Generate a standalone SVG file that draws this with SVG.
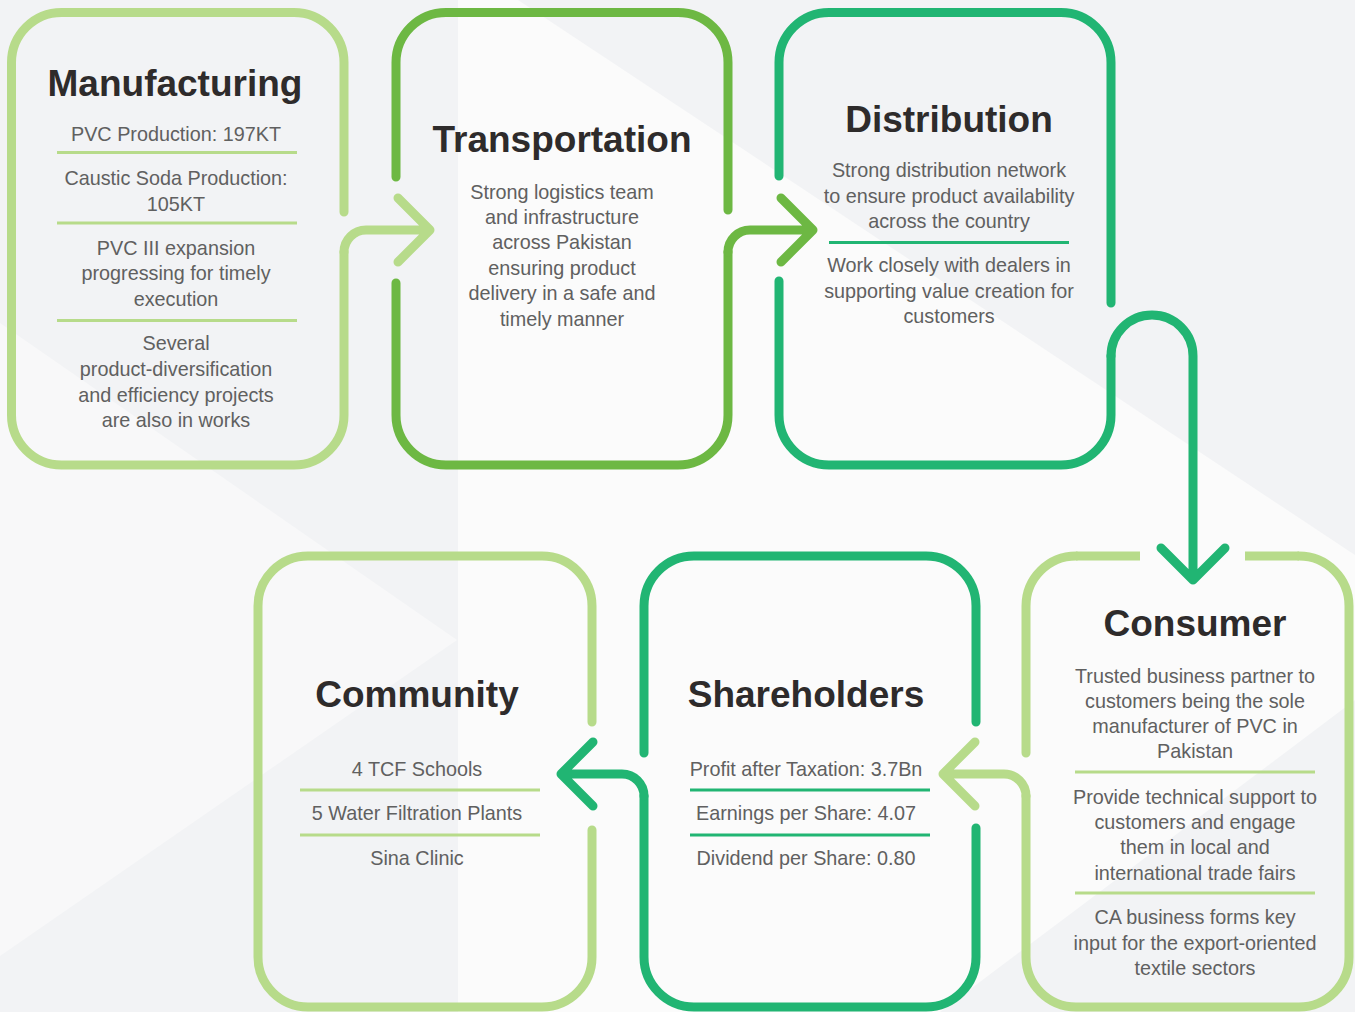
<svg xmlns="http://www.w3.org/2000/svg" width="1355" height="1012" viewBox="0 0 1355 1012">
  <defs>
    <style>
      .lg { stroke: #b7db8a; }
      .mg { stroke: #6db843; }
      .tg { stroke: #21b573; }
      .ln { fill: none; stroke-width: 9; stroke-linecap: round; stroke-linejoin: round; }
      .butt { fill: none; stroke-width: 9; stroke-linecap: butt; }
      .sep { fill: none; stroke-width: 3; }
      .title { font-family: "Liberation Sans", Arial, sans-serif; font-weight: bold; font-size: 37px; fill: #2e2b2b; text-anchor: middle; }
      .body { font-family: "Liberation Sans", Arial, sans-serif; font-size: 19.8px; fill: #606060; text-anchor: middle; }
    </style>
  </defs>

  <!-- background -->
  <g id="background">
    <rect x="0" y="0" width="1355" height="1012" fill="#f2f3f5"/>
    <polygon points="458,0 518,0 1355,555 1355,700 940,1012 458,1012" fill="#fbfbfb"/>
    <polygon points="0,323 457,640 0,956" fill="#f8f8f9"/>
  </g>

  <!-- Manufacturing -->
  <g id="manufacturing">
    <path class="ln lg" d="M 344 212 V 62.5 A 50 50 0 0 0 294 12.5 H 61.5 A 50 50 0 0 0 11.5 62.5 V 415 A 50 50 0 0 0 61.5 465 H 294 A 50 50 0 0 0 344 415 V 252"/>
    <text class="title" x="175" y="96">Manufacturing</text>
    <text class="body" x="176" y="141">PVC Production: 197KT</text>
    <line class="sep lg" x1="57" y1="152.5" x2="297" y2="152.5"/>
    <text class="body" x="176" y="185">Caustic Soda Production:</text>
    <text class="body" x="176" y="211">105KT</text>
    <line class="sep lg" x1="57" y1="223" x2="297" y2="223"/>
    <text class="body" x="176" y="255">PVC III expansion</text>
    <text class="body" x="176" y="280">progressing for timely</text>
    <text class="body" x="176" y="306">execution</text>
    <line class="sep lg" x1="57" y1="320.5" x2="297" y2="320.5"/>
    <text class="body" x="176" y="350">Several</text>
    <text class="body" x="176" y="376">product-diversification</text>
    <text class="body" x="176" y="402">and efficiency projects</text>
    <text class="body" x="176" y="427">are also in works</text>
  </g>

  <!-- Transportation -->
  <g id="transportation">
    <path class="ln mg" d="M 728 210 V 62.5 A 50 50 0 0 0 678 12.5 H 446 A 50 50 0 0 0 396 62.5 V 177 M 396 283 V 415 A 50 50 0 0 0 446 465 H 678 A 50 50 0 0 0 728 415 V 252"/>
    <text class="title" x="562" y="152">Transportation</text>
    <text class="body" x="562" y="199">Strong logistics team</text>
    <text class="body" x="562" y="224">and infrastructure</text>
    <text class="body" x="562" y="249">across Pakistan</text>
    <text class="body" x="562" y="275">ensuring product</text>
    <text class="body" x="562" y="300">delivery in a safe and</text>
    <text class="body" x="562" y="326">timely manner</text>
  </g>

  <!-- Distribution -->
  <g id="distribution">
    <path class="ln tg" d="M 1111 303 V 62.5 A 50 50 0 0 0 1061 12.5 H 829 A 50 50 0 0 0 779 62.5 V 176 M 779 281 V 415 A 50 50 0 0 0 829 465 H 1061 A 50 50 0 0 0 1111 415 V 356"/>
    <text class="title" x="949" y="132">Distribution</text>
    <text class="body" x="949" y="177">Strong distribution network</text>
    <text class="body" x="949" y="203">to ensure product availability</text>
    <text class="body" x="949" y="228">across the country</text>
    <line class="sep tg" x1="829" y1="242.5" x2="1069" y2="242.5"/>
    <text class="body" x="949" y="272">Work closely with dealers in</text>
    <text class="body" x="949" y="298">supporting value creation for</text>
    <text class="body" x="949" y="323">customers</text>
  </g>

  <!-- Consumer -->
  <g id="consumer">
    <path class="butt lg" d="M 1140 556 H 1076 M 1245 556 H 1299"/>
    <path class="ln lg" d="M 1076 556 A 50 50 0 0 0 1026 606 V 753 M 1299 556 A 50 50 0 0 1 1349 606 V 957 A 50 50 0 0 1 1299 1007 H 1076 A 50 50 0 0 1 1026 957 V 796"/>
    <text class="title" x="1195" y="636">Consumer</text>
    <text class="body" x="1195" y="683">Trusted business partner to</text>
    <text class="body" x="1195" y="708">customers being the sole</text>
    <text class="body" x="1195" y="733">manufacturer of PVC in</text>
    <text class="body" x="1195" y="758">Pakistan</text>
    <line class="sep lg" x1="1075" y1="772" x2="1315" y2="772"/>
    <text class="body" x="1195" y="804">Provide technical support to</text>
    <text class="body" x="1195" y="829">customers and engage</text>
    <text class="body" x="1195" y="854">them in local and</text>
    <text class="body" x="1195" y="880">international trade fairs</text>
    <line class="sep lg" x1="1075" y1="893" x2="1315" y2="893"/>
    <text class="body" x="1195" y="924">CA business forms key</text>
    <text class="body" x="1195" y="950">input for the export-oriented</text>
    <text class="body" x="1195" y="975">textile sectors</text>
  </g>

  <!-- Shareholders -->
  <g id="shareholders">
    <path class="ln tg" d="M 644 753 V 606 A 50 50 0 0 1 694 556 H 926 A 50 50 0 0 1 976 606 V 722 M 976 828 V 957 A 50 50 0 0 1 926 1007 H 694 A 50 50 0 0 1 644 957 V 796"/>
    <text class="title" x="806" y="707">Shareholders</text>
    <text class="body" x="806" y="776">Profit after Taxation: 3.7Bn</text>
    <line class="sep tg" x1="690" y1="790" x2="930" y2="790"/>
    <text class="body" x="806" y="820">Earnings per Share: 4.07</text>
    <line class="sep tg" x1="690" y1="835" x2="930" y2="835"/>
    <text class="body" x="806" y="865">Dividend per Share: 0.80</text>
  </g>

  <!-- Community -->
  <g id="community">
    <path class="ln lg" d="M 592 722 V 606 A 50 50 0 0 0 542 556 H 308 A 50 50 0 0 0 258 606 V 957 A 50 50 0 0 0 308 1007 H 542 A 50 50 0 0 0 592 957 V 830"/>
    <text class="title" x="417" y="707">Community</text>
    <text class="body" x="417" y="776">4 TCF Schools</text>
    <line class="sep lg" x1="300" y1="790" x2="540" y2="790"/>
    <text class="body" x="417" y="820">5 Water Filtration Plants</text>
    <line class="sep lg" x1="300" y1="835" x2="540" y2="835"/>
    <text class="body" x="417" y="865">Sina Clinic</text>
  </g>

  <!-- connectors -->
  <g id="connectors">
    <path class="ln lg" d="M 344 252 A 22 22 0 0 1 366 230 H 430 M 398 198 L 430 230 L 398 262"/>
    <path class="ln mg" d="M 728 252 A 22 22 0 0 1 750 230 H 813 M 781 198 L 813 230 L 781 262"/>
    <path class="ln tg" d="M 1111 356 A 41 41 0 0 1 1193 356 V 580 M 1161 548 L 1193 580 L 1225 548"/>
    <path class="ln lg" d="M 1026 796 A 22 22 0 0 0 1004 774 H 943 M 975 742 L 943 774 L 975 806"/>
    <path class="ln tg" d="M 644 796 A 22 22 0 0 0 622 774 H 561 M 593 742 L 561 774 L 593 806"/>
  </g>
</svg>
